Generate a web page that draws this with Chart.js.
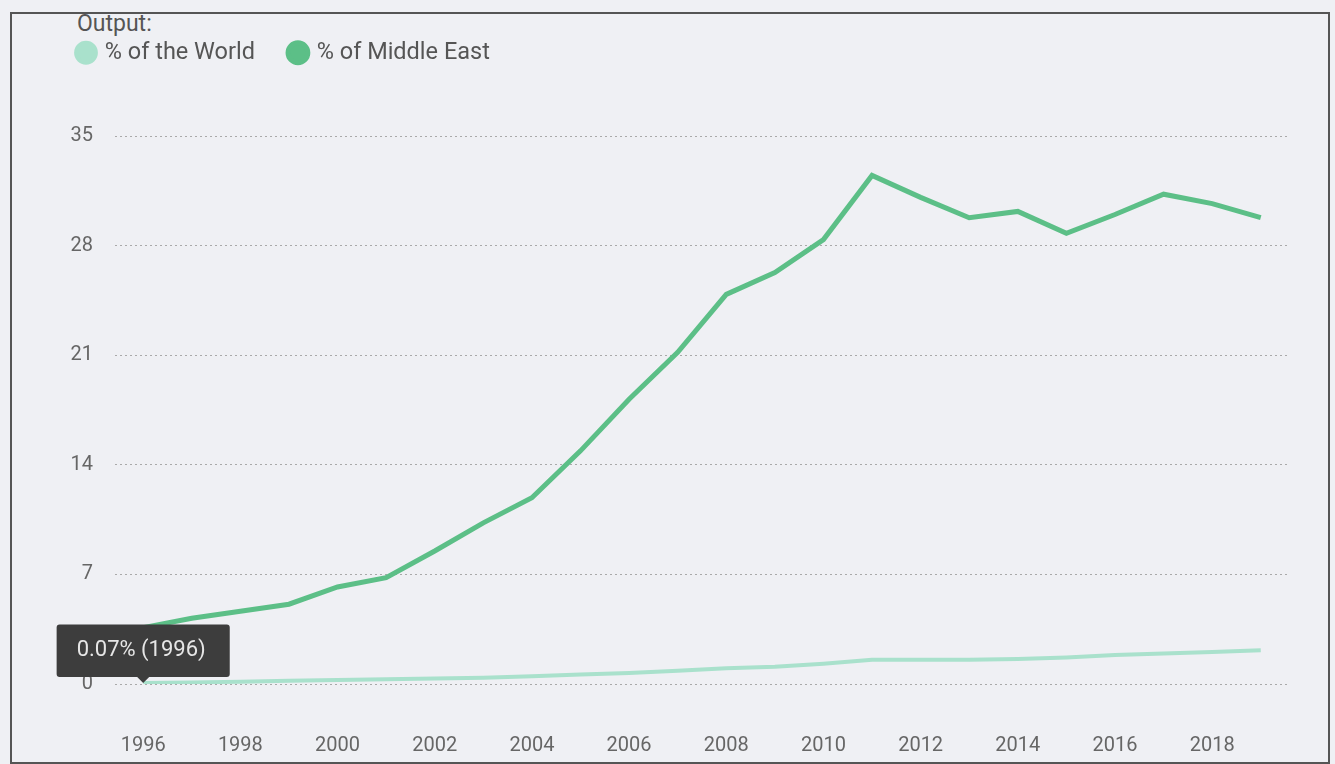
<!DOCTYPE html>
<html>
<head>
<meta charset="utf-8">
<script src="https://cdn.jsdelivr.net/npm/chart.js@4.4.0/dist/chart.umd.min.js"></script>
<style>
  body { margin: 0; background: #eff0f4; font-family: Roboto, sans-serif; overflow: hidden; }
  #marco { position: absolute; left: 10px; top: 12px; width: 1320px; height: 752px; border: 2px solid #555; box-sizing: border-box; }
  #titulo { position: absolute; left: 77px; top: 11px; font-size: 23px; line-height: 26px; color: #555; }
  #caja { position: absolute; left: 0; top: 0; width: 1335px; height: 764px; }
</style>
</head>
<body>
<div id="marco"></div>
<div id="titulo">Output:</div>
<div id="caja"><canvas id="myChart"></canvas></div>
<script>
// Datos
//? años
const anios = [1996, 1997, 1998, 1999, 2000, 2001, 2002, 2003, 2004, 2005, 2006, 2007,
  2008, 2009, 2010, 2011, 2012, 2013, 2014, 2015, 2016, 2017, 2018, 2019];
//? % del mundo
const mundo = [0.07, 0.1, 0.15, 0.2, 0.25, 0.3, 0.35, 0.4, 0.5, 0.6, 0.7, 0.85,
  1.0, 1.1, 1.3, 1.55, 1.55, 1.55, 1.6, 1.7, 1.85, 1.95, 2.05, 2.15];
//? % de medio oriente
const medioOriente = [3.6, 4.2, 4.65, 5.1, 6.2, 6.8, 8.5, 10.3, 11.9, 14.9, 18.2, 21.2,
  24.9, 26.3, 28.4, 32.5, 31.1, 29.8, 30.2, 28.8, 30.0, 31.3, 30.7, 29.8];
//? ticks
const ticksX = [1996, 1998, 2000, 2002, 2004, 2006, 2008, 2010, 2012, 2014, 2016, 2018];
const ticksY = [0, 7, 14, 21, 28, 35];

const colorMundo = "#a9e1cc";
const colorMedio = "#5cbf87";

const ctx = document.getElementById("myChart");

const myChart = new Chart(ctx, {
  type: "line",
  data: {
    datasets: [
      {
        label: "% of the World",
        data: anios.map((a, i) => ({ x: a, y: mundo[i] })),
        borderColor: colorMundo,
        backgroundColor: colorMundo,
        borderWidth: 4,
      },
      {
        label: "% of Middle East",
        data: anios.map((a, i) => ({ x: a, y: medioOriente[i] })),
        borderColor: colorMedio,
        backgroundColor: colorMedio,
        borderWidth: 5,
      },
    ],
  },
  options: {
    responsive: true,
    maintainAspectRatio: false,
    animation: false,
    events: [],
    layout: { padding: { left: 43, right: 48, top: 5, bottom: 6 } },
    elements: { point: { radius: 0, hoverRadius: 0 }, line: { tension: 0 } },
    plugins: {
      legend: {
        align: "start",
        labels: {
          usePointStyle: true,
          pointStyle: "circle",
          boxWidth: 14,
          boxHeight: 14,
          padding: 36,
          color: "#555",
          font: { family: "Roboto", size: 23.5 },
        },
      },
      tooltip: {
        backgroundColor: "#3d3d3d",
        bodyColor: "#e6e6e6",
        bodyFont: { family: "Roboto", size: 22 },
        padding: { left: 20, right: 24, top: 13, bottom: 13 },
        cornerRadius: 3,
        caretSize: 6,
        caretPadding: 0,
        displayColors: false,
        yAlign: "bottom",
        xAlign: "center",
        callbacks: {
          title: () => "",
          label: (c) => `${c.parsed.y}% (${c.parsed.x})`,
        },
      },
    },
    scales: {
      x: {
        type: "linear",
        min: 1995.42,
        max: 2019.54,
        afterBuildTicks: (scale) => { scale.ticks = ticksX.map((v) => ({ value: v })); },
        afterFit: (scale) => { scale.height = 74; },
        grid: { display: false, drawTicks: false },
        border: { display: false },
        ticks: {
          padding: 50,
          color: "#666",
          font: { family: "Roboto", size: 20 },
          callback: (v) => String(v),
        },
      },
      y: {
        min: 0,
        max: 38.95,
        afterBuildTicks: (scale) => { scale.ticks = ticksY.map((v) => ({ value: v })); },
        afterFit: (scale) => { scale.width = 72; },
        grid: { color: "#a9a9a9", lineWidth: 1, drawTicks: false },
        border: { display: false, dash: [2, 3] },
        ticks: {
          padding: 22,
          color: "#666",
          font: { family: "Roboto", size: 20 },
        },
      },
    },
  },
});

//? mostrar tooltip del primer punto
myChart.tooltip.setActiveElements([{ datasetIndex: 0, index: 0 }], { x: 0, y: 0 });
myChart.update();
</script>
</body>
</html>
